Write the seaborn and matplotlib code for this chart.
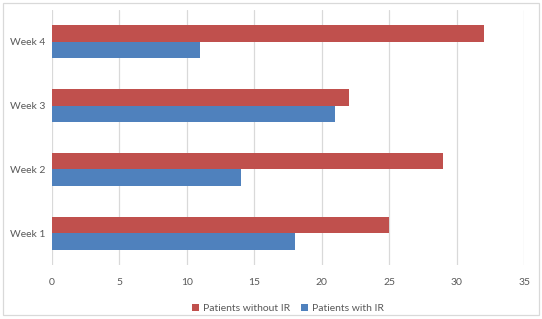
import pandas as pd
import matplotlib.pyplot as plt
import seaborn as sns
from matplotlib.patches import Rectangle

# ------------------------- Data -------------------------

weeks = ["Week 4", "Week 3", "Week 2", "Week 1"]
without_ir = [32, 22, 29, 25]
with_ir = [11, 21, 14, 18]
series = ["Patients without IR", "Patients with IR"]
colors = ["#C0504D", "#4F81BD"]

df = pd.DataFrame({
    "week": weeks * 2,
    "value": without_ir + with_ir,
    "group": [series[0]] * 4 + [series[1]] * 4,
})

# ------------------------- Plot -------------------------

sns.set_style("white")
plt.rcParams["font.family"] = ["Lato", "DejaVu Sans"]

fig = plt.figure(figsize=(5.42, 3.19), dpi=100)
ax = fig.add_axes([0.096, 0.169, 0.871, 0.80])

sns.barplot(data=df, x="value", y="week", hue="group", order=weeks,
            hue_order=series, palette=colors, orient="h", width=0.52,
            saturation=1, linewidth=0, ax=ax)

ax.set_xlim(0, 35)
ax.set_xticks(range(0, 36, 5))
ax.set_ylim(3.5, -0.5)
ax.xaxis.grid(True, color="#D9D9D9", linewidth=0.9)
ax.set_axisbelow(True)
for s in ax.spines.values():
    s.set_visible(False)
ax.tick_params(axis="both", length=0, labelsize=7.5, labelcolor="#595959")
ax.tick_params(axis="x", pad=9)
ax.tick_params(axis="y", pad=5)
ax.set_xlabel("")
ax.set_ylabel("")

ax.legend(loc="upper center", bbox_to_anchor=(0.5, -0.115), ncol=2, frameon=False,
          fontsize=7.5, labelcolor="#595959", handlelength=0.7, handleheight=0.7,
          handletextpad=0.4, columnspacing=1.0)

fig.patches.append(Rectangle((0.006, 0.012), 0.988, 0.978, transform=fig.transFigure,
                             fill=False, edgecolor="#D9D9D9", linewidth=0.9))

fig.savefig("out.png", dpi=100)
